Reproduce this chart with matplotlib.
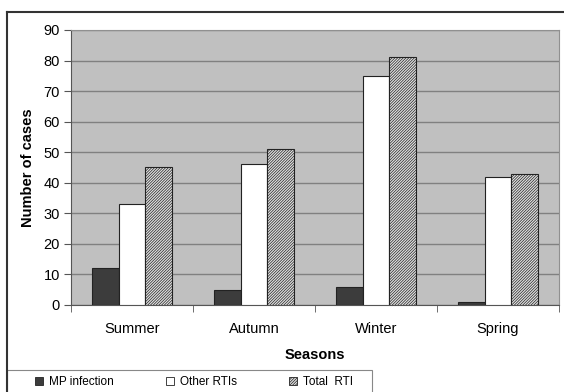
import matplotlib.pyplot as plt
import numpy as np
from matplotlib.patches import Patch, Rectangle
from matplotlib.lines import Line2D

plt.rcParams['font.family'] = ['Liberation Sans', 'DejaVu Sans']
plt.rcParams['hatch.linewidth'] = 0.5
plt.rcParams['hatch.color'] = '#3a3a3a'

# Cases per season
seasons = ['Summer', 'Autumn', 'Winter', 'Spring']
mp_infection = [12, 5, 6, 1]
other_rtis = [33, 46, 75, 42]
total_rti = [45, 51, 81, 43]

HATCH = '/' * 12

fig = plt.figure(figsize=(5.64, 3.92), dpi=100)
ax = fig.add_axes([71 / 564, 1 - 305 / 392, 488 / 564, 275 / 392])
ax.set_facecolor('#c0c0c0')

x = np.arange(len(seasons))
w = 0.22
ax.bar(x - w, mp_infection, w, color='#3c3c3c', edgecolor='#222222', lw=0.8, zorder=3)
ax.bar(x, other_rtis, w, color='white', edgecolor='#222222', lw=0.8, zorder=3)
ax.bar(x + w, total_rti, w, color='#e0e0e0', edgecolor='#222222', lw=0.8,
       hatch=HATCH, zorder=3)

ax.set_xlim(-0.5, 3.5)
ax.set_ylim(0, 90)
ax.set_yticks(range(0, 91, 10))
ax.yaxis.grid(True, color='#808080', lw=1.0, zorder=0)
ax.set_axisbelow(True)

ax.set_xticks(x)
ax.set_xticklabels(seasons, fontsize=10.5)
ax.tick_params(axis='x', length=0, pad=12)
ax.set_xticks(np.arange(-0.5, 4.0, 1.0), minor=True)
ax.tick_params(axis='x', which='minor', length=5, color='#555555')
ax.tick_params(axis='y', labelsize=10.5, length=5, color='#555555', pad=3)

for s in ['top', 'right']:
    ax.spines[s].set_color('#909090')
for s in ['left', 'bottom']:
    ax.spines[s].set_color('#555555')

ax.set_ylabel('Number of cases', fontsize=10.5, fontweight='bold', labelpad=6)
ax.set_xlabel('Seasons', fontsize=10.5, fontweight='bold', labelpad=9)

# outer frame (left and top edges)
fig.add_artist(Line2D([7 / 564, 7 / 564], [0, 1 - 12 / 392], color='#333333', lw=1.5))
fig.add_artist(Line2D([7 / 564, 1], [1 - 12 / 392, 1 - 12 / 392], color='#333333', lw=1.5))

# legend box along the bottom
fig.add_artist(Rectangle((7 / 564, -0.01), 365 / 564, 22 / 392 + 0.01,
                         transform=fig.transFigure, facecolor='white',
                         edgecolor='#888888', lw=0.8))

handles = [
    Patch(facecolor='#3c3c3c', edgecolor='#222222', lw=0.6),
    Patch(facecolor='white', edgecolor='#222222', lw=0.6),
    Patch(facecolor='#e0e0e0', edgecolor='#222222', lw=0.6, hatch=HATCH),
]
labels = ['MP infection', 'Other RTIs', 'Total  RTI']
fig.legend(handles, labels, loc='center left', ncol=3,
           bbox_to_anchor=(35 / 564, 1 - 382 / 392),
           fontsize=8.5, handlelength=0.65, handleheight=0.65,
           handletextpad=0.55, columnspacing=4.4, borderpad=0,
           borderaxespad=0, frameon=False)

fig.savefig('out.png', dpi=100)
